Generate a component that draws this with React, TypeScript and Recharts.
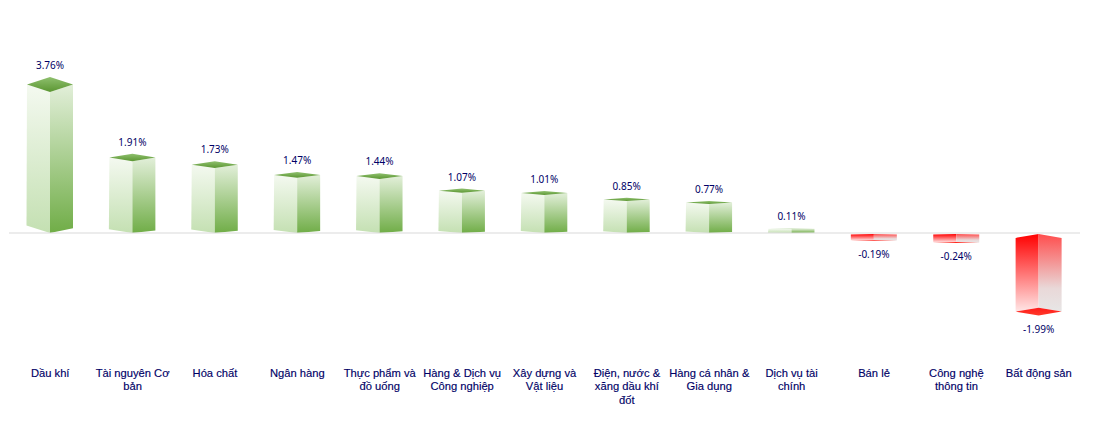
import { BarChart, Bar, XAxis, YAxis, ReferenceLine } from "recharts";

const categories = [
  "Dầu khí",
  "Tài nguyên Cơ\nbản",
  "Hóa chất",
  "Ngân hàng",
  "Thực phẩm và\nđồ uống",
  "Hàng & Dịch vụ\nCông nghiệp",
  "Xây dựng và\nVật liệu",
  "Điện, nước &\nxăng dầu khí\nđốt",
  "Hàng cá nhân &\nGia dụng",
  "Dịch vụ tài\nchính",
  "Bán lẻ",
  "Công nghệ\nthông tin",
  "Bất động sản",
];
const changes = [3.76, 1.91, 1.73, 1.47, 1.44, 1.07, 1.01, 0.85, 0.77, 0.11, -0.19, -0.24, -1.99];

const chartData = categories.map((name, i) => ({ name, change: changes[i] }));

const NAVY = "#000066";

// vẽ cột 3D bằng các đa giác
function Bar3D(props: any) {
  const { x, y, width, height, payload } = props;
  const value = payload.change;
  const top = Math.min(y, y + height);
  const h = Math.abs(height);
  const cx = x + width / 2;
  const right = x + width;
  const d = h * 0.05;
  const pts = (p: number[][]) => p.map((q) => q.join(",")).join(" ");
  const label = `${value.toFixed(2)}%`;

  if (value >= 0) {
    const base = top + h;
    return (
      <g>
        <polygon fill="url(#posLeft)" points={pts([[x, top], [cx, top + d], [cx, base], [x - 0.5, base - d], [x, top]])} />
        <polygon fill="url(#posRight)" points={pts([[cx, top + d], [right, top], [right, base - d * 0.65], [cx, base]])} />
        <polygon fill="url(#posTop)" points={pts([[x, top], [cx, top - d], [right, top], [cx, top + d]])} />
        <text x={cx} y={top - d - 12} textAnchor="middle" dominantBaseline="central" fontSize={10} fontFamily="'Noto Sans', sans-serif" fill={NAVY}>
          {label}
        </text>
      </g>
    );
  }

  const bottom = top + h;
  const start = top + 1;
  return (
    <g>
      <polygon fill="url(#negLeft)" points={pts([[x, start + d], [cx, start], [cx, bottom - d], [x, bottom]])} />
      <polygon fill="url(#negRight)" points={pts([[cx, start], [right, start + d], [right, bottom], [cx, bottom - d]])} />
      <polygon fill="url(#negBottom)" points={pts([[x, bottom], [cx, bottom - d], [right, bottom], [cx, bottom + d]])} />
      <text x={cx} y={bottom + d + 13} textAnchor="middle" dominantBaseline="central" fontSize={10} fontFamily="'Noto Sans', sans-serif" fill={NAVY}>
        {label}
      </text>
    </g>
  );
}

function CategoryTick(props: any) {
  const { x, payload } = props;
  const lines = String(payload.value).split("\n");
  return (
    <text textAnchor="middle" fontSize={11.2} fontFamily="'Liberation Sans', Arial, sans-serif" fill={NAVY} stroke={NAVY} strokeWidth={0.15}>
      {lines.map((line, i) => (
        <tspan key={i} x={x} y={376.5 + i * 13.5}>
          {line}
        </tspan>
      ))}
    </text>
  );
}

export default function App() {
  return (
    <div style={{ position: "absolute", left: 0, top: 0, width: 1113, height: 427, background: "#fff" }}>
      <BarChart
        width={1113}
        height={427}
        data={chartData}
        barCategoryGap={0}
        margin={{ top: 35.5, right: 33, bottom: 0, left: 9 }}
      >
        <defs>
          <linearGradient id="posLeft" x1="0" y1="0" x2="0" y2="1">
            <stop offset="0%" stopColor="#f4f9f0" />
            <stop offset="100%" stopColor="#c4e0b2" />
          </linearGradient>
          <linearGradient id="posRight" x1="0" y1="0" x2="0" y2="1">
            <stop offset="0%" stopColor="#e2efd9" />
            <stop offset="100%" stopColor="#70ad47" />
          </linearGradient>
          <linearGradient id="posTop" x1="0" y1="0" x2="0" y2="1">
            <stop offset="0%" stopColor="#8fc06e" />
            <stop offset="100%" stopColor="#5b9632" />
          </linearGradient>
          <linearGradient id="negLeft" x1="0" y1="0" x2="0" y2="1">
            <stop offset="0%" stopColor="#ff0000" />
            <stop offset="100%" stopColor="#ffe6e6" />
          </linearGradient>
          <linearGradient id="negRight" x1="0" y1="0" x2="0" y2="1">
            <stop offset="0%" stopColor="#ff4d4d" />
            <stop offset="70%" stopColor="#e9d8d8" />
            <stop offset="100%" stopColor="#e7e6e6" />
          </linearGradient>
          <linearGradient id="negBottom" x1="0" y1="0" x2="0" y2="1">
            <stop offset="0%" stopColor="#ff1a1a" />
            <stop offset="100%" stopColor="#ff3a2a" />
          </linearGradient>
        </defs>
        <XAxis dataKey="name" axisLine={false} tickLine={false} interval={0} tick={<CategoryTick />} height={75.5} />
        <YAxis hide domain={[-3, 5]} />
        <ReferenceLine y={0} stroke="#d9d9d9" strokeWidth={1} />
        <Bar dataKey="change" barSize={46} shape={<Bar3D />} isAnimationActive={false} />
      </BarChart>
    </div>
  );
}
